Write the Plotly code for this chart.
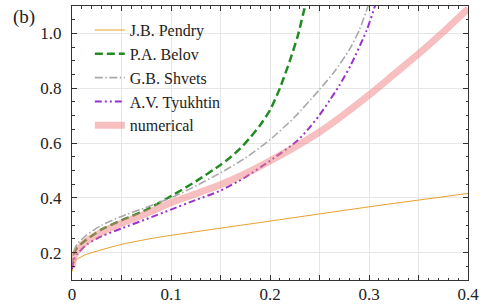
import plotly.graph_objects as go

# ---- data ----
pendry_x = [0.0, 0.002, 0.005, 0.015, 0.05, 0.081, 0.1, 0.2, 0.3, 0.4]
pendry_y = [0.13, 0.162, 0.176, 0.194, 0.23, 0.252, 0.263, 0.315, 0.367, 0.416]

belov_x = [0.0, 0.002, 0.005, 0.015, 0.03, 0.05, 0.075, 0.1, 0.125, 0.15, 0.16, 0.17, 0.18, 0.19, 0.2,
           0.21, 0.22, 0.228, 0.2354, 0.238]
belov_y = [0.15, 0.195, 0.218, 0.248, 0.285, 0.318, 0.356, 0.406, 0.46, 0.52, 0.548, 0.58, 0.62, 0.665, 0.72,
           0.8, 0.9, 0.99, 1.1, 1.14]

shvets_x = [0.0, 0.002, 0.005, 0.015, 0.03, 0.05, 0.075, 0.1, 0.125, 0.15, 0.175, 0.2, 0.225, 0.25, 0.265,
            0.28, 0.29, 0.299, 0.302]
shvets_y = [0.15, 0.205, 0.23, 0.265, 0.3, 0.332, 0.365, 0.4, 0.443, 0.491, 0.545, 0.612, 0.695, 0.795, 0.86,
            0.94, 1.01, 1.1, 1.14]

tyukhtin_x = [0.0, 0.002, 0.005, 0.015, 0.03, 0.05, 0.075, 0.1, 0.125, 0.15, 0.175, 0.2, 0.227, 0.238, 0.25,
              0.26, 0.27, 0.281, 0.2977, 0.306, 0.309]
tyukhtin_y = [0.14, 0.175, 0.194, 0.23, 0.26, 0.288, 0.322, 0.357, 0.392, 0.426, 0.475, 0.535, 0.606, 0.648, 0.702,
              0.754, 0.81, 0.88, 1.012, 1.1, 1.14]

num_x = [0.0, 0.002, 0.005, 0.015, 0.03, 0.05, 0.075, 0.1, 0.125, 0.15, 0.175, 0.2, 0.225, 0.25, 0.275,
         0.3, 0.325, 0.35, 0.375, 0.4]
num_y = [0.145, 0.185, 0.205, 0.242, 0.275, 0.307, 0.343, 0.382, 0.415, 0.448, 0.488, 0.535, 0.585, 0.64, 0.705,
         0.775, 0.85, 0.925, 1.005, 1.09]

names = ["J.B. Pendry", "P.A. Belov", "G.B. Shvets", "A.V. Tyukhtin", "numerical"]

x_tickvals = [0.0, 0.05, 0.1, 0.15, 0.2, 0.25, 0.3, 0.35, 0.4]
x_ticktext = ["0", "", "0.1", "", "0.2", "", "0.3", "", "0.4"]
y_tickvals = [0.2, 0.4, 0.6, 0.8, 1.0]
y_ticktext = ["0.2", "0.4", "0.6", "0.8", "1.0"]

FONT = "Liberation Serif, Times New Roman, DejaVu Serif, serif"

fig = go.Figure()
series = [
    (pendry_x, pendry_y, dict(color="#E6A02A", width=1)),
    (belov_x, belov_y, dict(color="#228B22", width=2.5, dash="8px,4px")),
    (shvets_x, shvets_y, dict(color="#A9A9A9", width=1.6, dash="8px,2.5px,1.5px,2.5px")),
    (tyukhtin_x, tyukhtin_y, dict(color="#9932CC", width=2, dash="7px,3px,2px,3px,2px,3px")),
    (num_x, num_y, dict(color="rgba(240,128,128,0.5)", width=7)),
]
for (xs, ys, ln), nm in zip(series, names):
    fig.add_trace(go.Scatter(x=xs, y=ys, mode="lines", name=nm,
                             line=dict(shape="spline", smoothing=0.6, **ln)))

axis_common = dict(
    showline=True, linecolor="#333333", linewidth=1, mirror="allticks",
    ticks="inside", ticklen=5, tickwidth=1, tickcolor="#333333",
    showgrid=True, gridcolor="#E6E6E6", gridwidth=1, zeroline=False, automargin=False,
    tickfont=dict(family=FONT, size=17, color="#222222"),
)
fig.update_xaxes(range=[0, 0.4], tickvals=x_tickvals, ticktext=x_ticktext, ticklabelstandoff=-1,
                 minor=dict(ticks="inside", ticklen=2.5, tickcolor="#333333", dtick=0.01, tick0=0, showgrid=False),
                 **axis_common)
fig.update_yaxes(range=[0.1, 1.1], tickvals=y_tickvals, ticktext=y_ticktext, ticklabelstandoff=6,
                 minor=dict(ticks="inside", ticklen=2.5, tickcolor="#333333", dtick=0.05, tick0=0, showgrid=False),
                 **axis_common)

fig.update_layout(
    width=484, height=306,
    margin=dict(l=72, r=16, t=6, b=26, autoexpand=False),
    paper_bgcolor="white", plot_bgcolor="white",
    font=dict(family=FONT, size=17, color="#222222"),
    legend=dict(x=0.045, y=0.974, xanchor="left", yanchor="top",
                bgcolor="rgba(0,0,0,0)", font=dict(family=FONT, size=16, color="#222222")),
    showlegend=True,
)
fig.add_annotation(text="(b)", xref="paper", yref="paper", x=-0.122, y=0.96, xanchor="center", yanchor="middle",
                   showarrow=False, font=dict(family=FONT, size=19, color="#222222"))

fig.write_html("out.html", post_script="document.body.style.margin='0';",
               config={"displayModeBar": False})
